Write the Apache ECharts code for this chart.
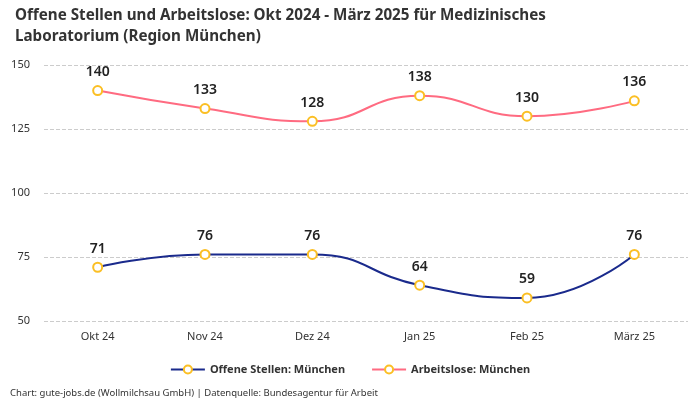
<!DOCTYPE html>
<html><head><meta charset="utf-8">
<script src="https://cdn.jsdelivr.net/npm/echarts@6/dist/echarts.min.js"></script>
<style>html,body{margin:0;padding:0;background:#fff}#c{width:700px;height:400px}</style>
</head><body><div id="c"></div>
<script>
const categories = ['Okt 24','Nov 24','Dez 24','Jan 25','Feb 25','März 25'];
const offeneStellen = [71, 76, 76, 64, 59, 76];
const arbeitslose = [140, 133, 128, 138, 130, 136];
const yTicks = {min: 50, max: 150, interval: 25};

const chart = echarts.init(document.getElementById('c'));
const font = "'Noto Sans', sans-serif";
function series(name, data, color) {
  return {
    name, type: 'line', data, smooth: true,
    symbol: 'emptyCircle', symbolSize: 9,
    lineStyle: {color, width: 2},
    itemStyle: {color: '#fbbf24', borderColor: '#fbbf24', borderWidth: 2},
    label: {show: true, position: 'top', fontSize: 14, fontWeight: 600, color: '#222', fontFamily: font, distance: 6}
  };
}
chart.setOption({
  animation: false,
  color: ['#1a2a8c', '#ff6b81'],
  title: {
    text: 'Offene Stellen und Arbeitslose: Okt 2024 - März 2025 für Medizinisches\nLaboratorium (Region München)',
    left: 10, top: 0,
    textStyle: {fontSize: 15.2, fontWeight: 'bold', color: '#333', fontFamily: font, lineHeight: 21}
  },
  graphic: [{type: 'text', left: 10, top: 388, style: {text: 'Chart: gute-jobs.de (Wollmilchsau GmbH) | Datenquelle: Bundesagentur für Arbeit', fontSize: 9.5, fill: '#333', fontFamily: font}}],
  legend: {
    bottom: 20, left: 'center', itemGap: 26, itemWidth: 34, itemHeight: 10,
    textStyle: {fontSize: 11, fontWeight: 'bold', color: '#333', fontFamily: font},
    data: ['Offene Stellen: München', 'Arbeitslose: München']
  },
  grid: {left: 44, right: 12, top: 65, bottom: 79, containLabel: false},
  xAxis: {
    type: 'category', data: categories, boundaryGap: true,
    axisLine: {show: false}, axisTick: {show: false},
    axisLabel: {fontSize: 11, color: '#333', fontFamily: font, margin: 10}
  },
  yAxis: {
    type: 'value', min: yTicks.min, max: yTicks.max, interval: yTicks.interval,
    axisLine: {show: false}, axisTick: {show: false},
    axisLabel: {fontSize: 11, color: '#333', fontFamily: font, margin: 14},
    splitLine: {lineStyle: {type: 'dashed', color: '#ccc'}}
  },
  series: [
    series('Offene Stellen: München', offeneStellen, '#1a2a8c'),
    series('Arbeitslose: München', arbeitslose, '#ff6b81')
  ]
});
</script></body></html>
